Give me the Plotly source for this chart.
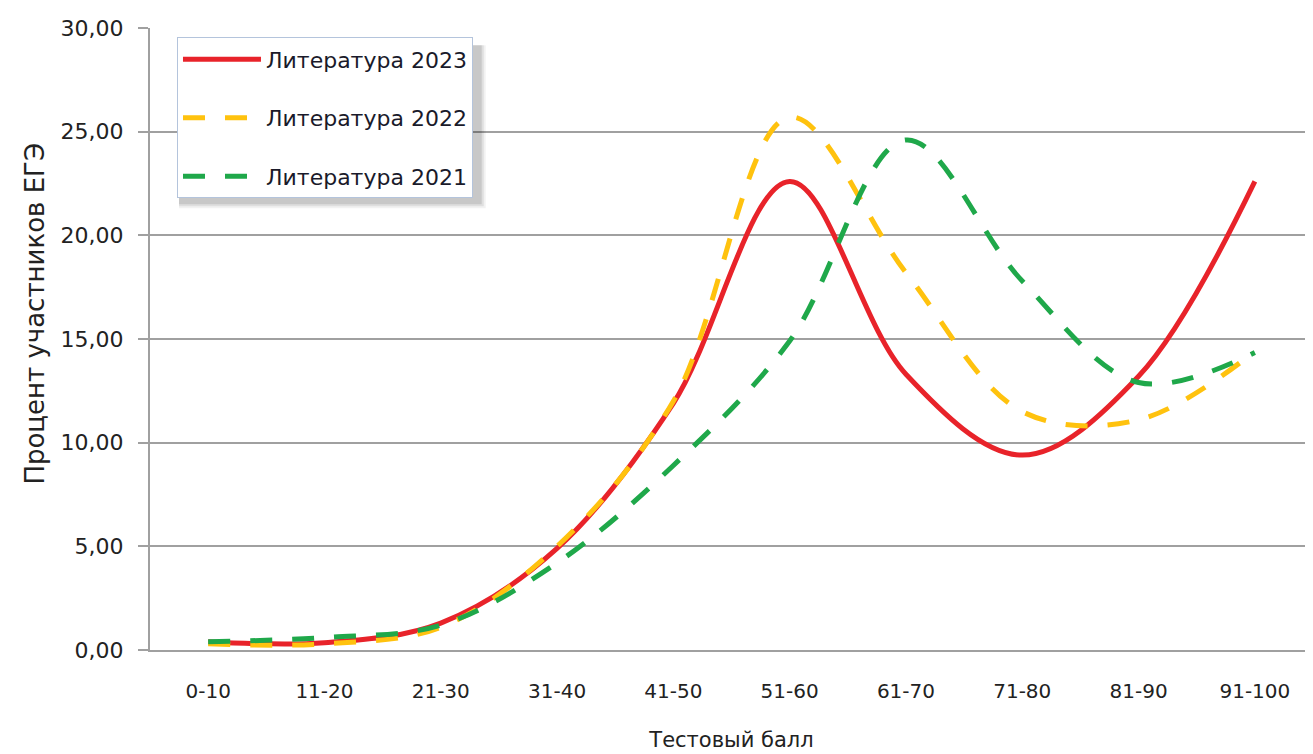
import plotly.graph_objects as go

categories = ["0-10", "11-20", "21-30", "31-40", "41-50", "51-60", "61-70", "71-80", "81-90", "91-100"]
lit_2023 = [0.40, 0.35, 1.30, 4.90, 11.90, 22.60, 13.30, 9.40, 13.20, 22.60]
lit_2022 = [0.30, 0.30, 1.10, 5.00, 12.00, 25.70, 18.20, 11.50, 11.10, 14.40]
lit_2021 = [0.40, 0.60, 1.20, 4.20, 8.90, 14.90, 24.60, 17.80, 12.90, 14.35]
y_ticks = [0, 5, 10, 15, 20, 25, 30]
y_tick_labels = ["0,00", "5,00", "10,00", "15,00", "20,00", "25,00", "30,00"]

series = [
    ("Литература 2023", lit_2023, "#e8232a", "solid"),
    ("Литература 2022", lit_2022, "#ffc20e", "22px,20px"),
    ("Литература 2021", lit_2021, "#1fa84a", "22px,20px"),
]

fig = go.Figure()
for i, (name, vals, color, dash) in enumerate(series):
    fig.add_trace(go.Scatter(
        x=categories, y=vals, name=name, mode="lines",
        line=dict(color=color, width=5, dash=dash, shape="spline", smoothing=1.0),
        legendgroup=f"g{i}",
    ))

# soft shadow behind the legend box
LX0, LX1, LY0, LY1 = 0.0232, 0.2835, 0.72, 0.985
for d, col in [(6, "rgba(0,0,0,0.05)"), (4, "rgba(0,0,0,0.08)"), (2, "rgba(0,0,0,0.10)")]:
    fig.add_shape(type="rect", xref="paper", yref="paper", layer="above",
                  x0=LX0 + 2 / 1163, x1=LX1 + d / 1163,
                  y0=LY0 - d / 625, y1=LY1 - 8 / 625,
                  line=dict(width=0), fillcolor=col)

fig.add_annotation(
    text="Процент участников ЕГЭ", textangle=-90,
    xref="paper", yref="paper", x=-115 / 1163, y=1 - (312 - 25) / 625,
    xanchor="center", yanchor="middle", showarrow=False,
    font=dict(family="DejaVu Sans", size=26, color="#222222"),
)

fig.update_layout(
    width=1313, height=754,
    margin=dict(l=142, r=8, t=17, b=112),
    plot_bgcolor="white", paper_bgcolor="white",
    font=dict(family="DejaVu Sans", size=20, color="#222222"),
    showlegend=True,
    legend=dict(
        x=LX0, y=LY1, xanchor="left", yanchor="top",
        bgcolor="white", bordercolor="#b4c4dc", borderwidth=1,
        font=dict(family="DejaVu Sans", size=22, color="#1a1a2a"),
        traceorder="grouped", tracegroupgap=27,
        itemwidth=78,
    ),
    xaxis=dict(
        type="category", range=[-0.5, 9.5],
        showgrid=False, showline=True, linecolor="#a0a0a0", linewidth=2,
        ticks="outside", ticklen=22, tickcolor="rgba(0,0,0,0)",
        tickfont=dict(family="DejaVu Sans", size=20, color="#222222"),
        title=dict(text="Тестовый балл", font=dict(family="DejaVu Sans", size=21, color="#222222"), standoff=30),
    ),
    yaxis=dict(
        range=[0, 30], tickvals=y_ticks, ticktext=y_tick_labels,
        showgrid=True, gridcolor="#a0a0a0", gridwidth=2,
        showline=True, linecolor="#a0a0a0", linewidth=2,
        ticks="outside", ticklen=10, tickcolor="#a0a0a0", tickwidth=2,
        ticklabelstandoff=10,
        zeroline=False,
        tickfont=dict(family="DejaVu Sans", size=22, color="#222222"),
    ),
)

fig.write_html("out.html")
